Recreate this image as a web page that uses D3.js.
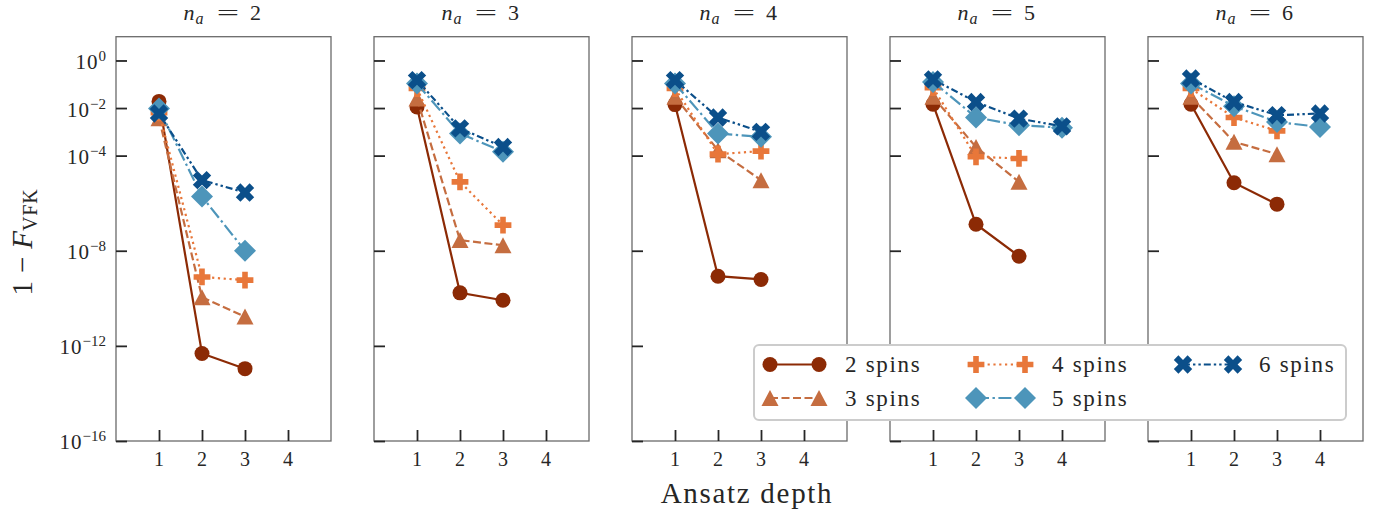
<!DOCTYPE html>
<html><head><meta charset="utf-8">
<script src="https://cdn.jsdelivr.net/npm/d3@7"></script>
<style>
body{margin:0;background:#fff}
svg{display:block}
text{font-family:"Liberation Serif","Times New Roman",serif;fill:#262626}
</style>
</head><body>
<svg id="chart" width="1392" height="514"></svg>
<script>
// ---------------- data ----------------
const panelNa = [2, 3, 4, 5, 6];
const depths = [1, 2, 3, 4];
const seriesLabels = ["2 spins", "3 spins", "4 spins", "5 spins", "6 spins"];
const yTickExps = [0, -2, -4, -8, -12, -16];
const xTickValues = [1, 2, 3, 4];

// 1 - F_VFK per ansatz depth, one row per panel (n_a = 2..6)
const spins2 = [
  [1.9e-2, 4.8e-13, 1.1e-13],
  [1.1e-2, 1.7e-10, 8.3e-11],
  [1.4e-2, 8.5e-10, 6.2e-10],
  [1.45e-2, 1.3e-7, 5.9e-9],
  [1.45e-2, 7.2e-6, 9.1e-7]
];
const spins3 = [
  [3.7e-3, 1.1e-10, 1.7e-11],
  [2.5e-2, 2.8e-8, 1.7e-8],
  [2.95e-2, 1.7e-4, 9.3e-6],
  [2.95e-2, 2.3e-4, 7.9e-6],
  [2.95e-2, 3.8e-4, 1.15e-4]
];
const spins4 = [
  [6.3e-3, 7.9e-10, 5.8e-10],
  [6.6e-2, 7.9e-6, 1.2e-7],
  [6.6e-2, 1.15e-4, 1.55e-4],
  [7.2e-2, 8.9e-5, 7.6e-5],
  [6.6e-2, 4.0e-3, 1.1e-3]
];
const spins5 = [
  [9.5e-3, 1.9e-6, 1.0e-8],
  [1.07e-1, 8.5e-4, 1.45e-4],
  [1.07e-1, 8.5e-4, 6.2e-4],
  [1.26e-1, 4.0e-3, 1.9e-3, 1.5e-3],
  [1.07e-1, 1.2e-2, 2.6e-3, 1.6e-3]
];
const spins6 = [
  [5.9e-3, 9.3e-6, 2.8e-6],
  [1.5e-1, 1.4e-3, 2.3e-4],
  [1.5e-1, 4.0e-3, 1.0e-3],
  [1.6e-1, 1.8e-2, 3.6e-3, 1.7e-3],
  [1.74e-1, 1.8e-2, 5.0e-3, 5.9e-3]
];
const allSeries = [spins2, spins3, spins4, spins5, spins6];

// ---------------- styles ----------------
const colors = ["#8c2a05", "#c56d40", "#e8773a", "#4d95ba", "#0b4f8a"];
const dashes = [null, "8,3.5", "2.2,3.6", "13,3.5,2.4,3.5", "7,3,2.4,3,2.4,3"];
const markerTypes = ["circle", "triangle", "plus", "diamond", "x"];

function markerPath(type) {
  switch (type) {
    case "circle": return d3.symbol(d3.symbolCircle, Math.PI * 7.5 * 7.5)();
    case "triangle": { const w = 8.5, h = 8; return `M0,${-h}L${w},${h}L${-w},${h}Z`; }
    case "plus": {
      const s = 8.4 / 3;
      const pts = [[-1,-3],[1,-3],[1,-1],[3,-1],[3,1],[1,1],[1,3],[-1,3],[-1,1],[-3,1],[-3,-1],[-1,-1]];
      return "M" + pts.map(p => [p[0]*s, p[1]*s].join(",")).join("L") + "Z";
    }
    case "diamond": { const r = 11; return `M0,${-r}L${r},0L0,${r}L${-r},0Z`; }
    case "x": {
      const s = 9.2 / 2;
      const pts = [[-1,-2],[0,-1],[1,-2],[2,-1],[1,0],[2,1],[1,2],[0,1],[-1,2],[-2,1],[-1,0],[-2,-1]];
      return "M" + pts.map(p => [p[0]*s, p[1]*s].join(",")).join("L") + "Z";
    }
  }
}

// ---------------- layout ----------------
const svg = d3.select("#chart");
const panelLeft0 = 116, panelStep = 258, panelW = 215;
const panelTop = 36.7, panelH = 404.3;

const x = d3.scaleLinear().domain([0, 5]).range([0, panelW]);
const y = d3.scaleLog().domain([1e-16, 1e1]).range([panelH, 0]);

const line = d3.line().x(d => x(d.depth)).y(d => y(d.v));

panelNa.forEach((na, pi) => {
  const px = panelLeft0 + pi * panelStep;
  const g = svg.append("g").attr("transform", `translate(${px},${panelTop})`);

  g.append("rect").attr("x", 0).attr("y", 0).attr("width", panelW).attr("height", panelH)
    .attr("fill", "none").attr("stroke", "#6a6a6a").attr("stroke-width", 1.3);

  const yAxis = d3.axisLeft(y).tickValues(yTickExps.map(e => Math.pow(10, e)))
    .tickSizeInner(-11).tickSizeOuter(0).tickFormat("");
  const ya = g.append("g").call(yAxis);
  ya.select(".domain").remove();
  ya.selectAll(".tick line").attr("stroke", "#262626").attr("stroke-width", 1.8);

  const xAxis = d3.axisBottom(x).tickValues(xTickValues).tickSizeInner(-11).tickSizeOuter(0).tickFormat("");
  const xa = g.append("g").attr("transform", `translate(0,${panelH})`).call(xAxis);
  xa.select(".domain").remove();
  xa.selectAll(".tick line").attr("stroke", "#262626").attr("stroke-width", 1.8);

  g.selectAll(".xlab").data(xTickValues).join("text")
    .attr("x", d => x(d)).attr("y", panelH + 25)
    .attr("text-anchor", "middle").attr("font-size", 20).text(d => d);

  if (pi === 0) {
    yTickExps.forEach(e => {
      const t = g.append("text").attr("x", -10).attr("y", y(Math.pow(10, e)) + 8.5)
        .attr("text-anchor", "end").attr("font-size", 21);
      t.append("tspan").attr("letter-spacing", 1).text("10");
      t.append("tspan").attr("dy", -8).attr("font-size", 15)
        .text(e === 0 ? "0" : "\u2212" + Math.abs(e));
    });
  }

  // title  n_a = k
  const cx = px + panelW / 2;
  const tn = svg.append("text").attr("x", cx - 40).attr("y", 20).attr("font-size", 22);
  tn.append("tspan").attr("font-style", "italic").text("n");
  tn.append("tspan").attr("font-style", "italic").attr("font-size", 16).attr("dy", 4).attr("dx", 1).text("a");
  svg.append("text").attr("text-anchor", "middle")
    .attr("transform", `translate(${cx + 4.5},20) scale(1.8,1)`)
    .attr("font-size", 22).text("=");
  svg.append("text").attr("x", cx + 26.5).attr("y", 20).attr("font-size", 22).text(na);

  allSeries.forEach((ser, si) => {
    const vals = ser[pi].map((v, k) => ({ depth: depths[k], v }));
    const path = g.append("path").datum(vals).attr("d", line)
      .attr("fill", "none").attr("stroke", colors[si]).attr("stroke-width", 2.2);
    if (dashes[si]) path.attr("stroke-dasharray", dashes[si]);
    g.selectAll(null).data(vals).join("path")
      .attr("d", markerPath(markerTypes[si]))
      .attr("transform", d => `translate(${x(d.depth)},${y(d.v)})`)
      .attr("fill", colors[si]);
  });
});

// axis labels
const yl = svg.append("text").attr("transform", "translate(32,242) rotate(-90)")
  .attr("text-anchor", "middle").attr("font-size", 29);
yl.append("tspan").text("1");
yl.append("tspan").attr("dx", 8).text("\u2212");
yl.append("tspan").attr("dx", 8).attr("font-style", "italic").text("F");
yl.append("tspan").attr("font-size", 20).attr("dy", 5).attr("letter-spacing", 0.8).text("VFK");

svg.append("text").attr("x", 747).attr("y", 503).attr("text-anchor", "middle")
  .attr("font-size", 29).attr("letter-spacing", 1.7).text("Ansatz depth");

// legend
const lg = svg.append("g");
lg.append("rect").attr("x", 754).attr("y", 345).attr("width", 592).attr("height", 75)
  .attr("rx", 5).attr("fill", "#fff").attr("stroke", "#cccccc").attr("stroke-width", 2);
const legPos = [
  { x1: 770, x2: 819, tx: 845, y: 364.5 },
  { x1: 770, x2: 819, tx: 845, y: 398 },
  { x1: 976, x2: 1025, tx: 1052, y: 364.5 },
  { x1: 976, x2: 1025, tx: 1052, y: 398 },
  { x1: 1183, x2: 1233, tx: 1259, y: 364.5 }
];
seriesLabels.forEach((lab, si) => {
  const p = legPos[si];
  const l = lg.append("line").attr("x1", p.x1).attr("x2", p.x2).attr("y1", p.y).attr("y2", p.y)
    .attr("stroke", colors[si]).attr("stroke-width", 2.2);
  if (dashes[si]) l.attr("stroke-dasharray", dashes[si]);
  [p.x1, p.x2].forEach(mx => lg.append("path").attr("d", markerPath(markerTypes[si]))
    .attr("transform", `translate(${mx},${p.y})`).attr("fill", colors[si]));
  lg.append("text").attr("x", p.tx).attr("y", p.y + 7.5).attr("font-size", 23)
    .attr("letter-spacing", 1.7).text(lab);
});
</script>
</body></html>
